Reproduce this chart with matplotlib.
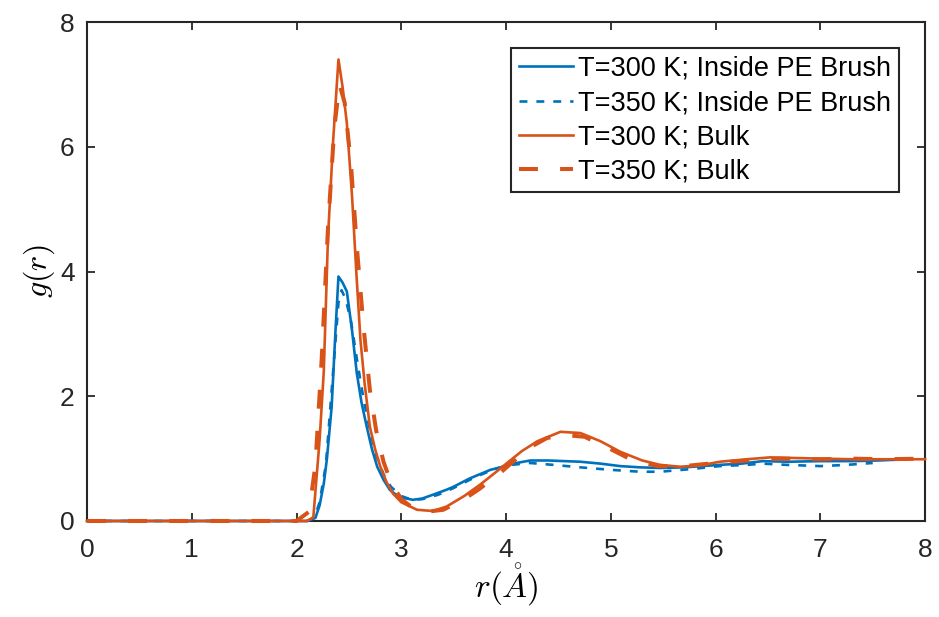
import numpy as np
import matplotlib.pyplot as plt

# g(r) data
r_brush_300 = [0, 2.10, 2.18, 2.22, 2.26, 2.29, 2.335, 2.37, 2.40, 2.44, 2.48, 2.53, 2.575, 2.62, 2.67,
               2.72, 2.77, 2.83, 2.89, 2.95, 3.02, 3.11, 3.2, 3.3, 3.43, 3.5, 3.65, 3.85, 3.95, 4.01,
               4.1, 4.23, 4.4, 4.71, 4.9, 5.09, 5.28, 5.47, 5.7, 6.04, 6.25, 6.45, 6.7, 7.0, 7.3, 7.55, 7.83]
g_brush_300 = [0, 0, 0.05, 0.25, 0.6, 1.0, 1.83, 3.0, 3.92, 3.82, 3.68, 3.05, 2.37, 1.9, 1.51,
               1.15, 0.87, 0.66, 0.50, 0.42, 0.37, 0.34, 0.36, 0.42, 0.50, 0.55, 0.68, 0.82, 0.86, 0.90,
               0.93, 0.97, 0.97, 0.95, 0.92, 0.88, 0.86, 0.85, 0.86, 0.90, 0.92, 0.96, 0.95, 0.96, 0.96, 0.97, 0.99]

r_brush_350 = [0, 2.10, 2.17, 2.22, 2.28, 2.34, 2.40, 2.43, 2.47, 2.52, 2.58, 2.64, 2.70, 2.76, 2.83,
               2.90, 3.0, 3.1, 3.2, 3.35, 3.5, 3.7, 3.9, 4.05, 4.23, 4.45, 4.71, 5.0, 5.28, 5.47,
               5.75, 6.04, 6.3, 6.45, 6.68, 7.0, 7.25, 7.5]
g_brush_350 = [0, 0, 0.05, 0.3, 0.9, 2.2, 3.5, 3.7, 3.55, 3.2, 2.55, 1.95, 1.45, 1.05, 0.75,
               0.55, 0.40, 0.34, 0.35, 0.42, 0.53, 0.70, 0.84, 0.90, 0.93, 0.90, 0.86, 0.82, 0.79, 0.79,
               0.83, 0.88, 0.90, 0.92, 0.90, 0.88, 0.90, 0.93]

r_bulk_300 = [0, 2.10, 2.16, 2.22, 2.26, 2.30, 2.35, 2.40, 2.44, 2.48, 2.53, 2.57, 2.61, 2.65, 2.70,
              2.75, 2.80, 2.86, 2.92, 3.0, 3.15, 3.3, 3.43, 3.6, 3.75, 3.9, 4.01, 4.15, 4.3, 4.52,
              4.71, 4.9, 5.09, 5.3, 5.47, 5.66, 5.85, 6.04, 6.3, 6.52, 6.75, 7.0, 7.3, 7.6, 8.0]
g_bulk_300 = [0, 0, 0.06, 1.3, 2.4, 4.55, 6.12, 7.40, 6.95, 6.38, 5.2, 4.0, 2.9, 2.2, 1.51,
              1.15, 0.87, 0.62, 0.44, 0.30, 0.18, 0.16, 0.23, 0.40, 0.58, 0.78, 0.93, 1.12, 1.28, 1.43,
              1.41, 1.28, 1.11, 0.97, 0.90, 0.87, 0.89, 0.95, 0.99, 1.02, 1.01, 1.00, 0.99, 0.99, 0.99]

r_bulk_350 = [0, 2.0, 2.08, 2.12, 2.18, 2.24, 2.30, 2.36, 2.41, 2.46, 2.52, 2.58, 2.64, 2.70, 2.76,
              2.83, 2.90, 3.0, 3.1, 3.25, 3.4, 3.6, 3.75, 3.95, 4.1, 4.25, 4.39, 4.55, 4.75, 5.0,
              5.2, 5.45, 5.7, 6.0, 6.3, 6.6, 7.0, 7.3, 7.6, 8.0]
g_bulk_350 = [0, 0, 0.1, 0.15, 0.9, 2.6, 4.7, 6.3, 7.0, 6.7, 5.7, 4.3, 3.1, 2.1, 1.45,
              0.95, 0.62, 0.35, 0.22, 0.15, 0.18, 0.35, 0.52, 0.78, 1.0, 1.2, 1.33, 1.38, 1.35, 1.15,
              0.98, 0.88, 0.88, 0.93, 0.97, 1.00, 0.99, 1.0, 0.99, 1.0]

labels = ['T=300 K; Inside PE Brush', 'T=350 K; Inside PE Brush', 'T=300 K; Bulk', 'T=350 K; Bulk']

blue = '#0072BD'
orange = '#D95319'

plt.rcParams['font.family'] = ['Liberation Sans', 'DejaVu Sans']
plt.rcParams['mathtext.fontset'] = 'cm'

fig = plt.figure(figsize=(9.39, 6.17), dpi=100)
ax = fig.add_axes([0.0927, 0.1556, 0.8925, 0.8087])

ax.plot(r_brush_300, g_brush_300, color=blue, lw=1.9, label=labels[0], clip_on=False, zorder=3)
ax.plot(r_brush_350, g_brush_350, color=blue, lw=1.9, ls=(0, (3.0, 3.4)), label=labels[1],
        clip_on=False, zorder=3)
ax.plot(r_bulk_300, g_bulk_300, color=orange, lw=1.9, label=labels[2], clip_on=False, zorder=3)
ax.plot(r_bulk_350, g_bulk_350, color=orange, lw=2.9, ls=(0, (4.7, 5.5)), label=labels[3],
        clip_on=False, zorder=3)

ax.set_xlim(0, 8)
ax.set_ylim(0, 8)
ax.set_xticks(range(0, 9))
ax.set_yticks([0, 2, 4, 6, 8])

ax.tick_params(direction='in', length=6, width=1.3, top=True, right=True,
               labelsize=19, colors='#262626')
ax.tick_params(axis='x', pad=12)
ax.tick_params(axis='y', pad=9)
for s in ax.spines.values():
    s.set_linewidth(1.5)
    s.set_color('#262626')

ax.set_xlabel(r'$r(\mathring{A})$', fontsize=24, labelpad=0)
ax.set_ylabel(r'$g(r)$', fontsize=23, labelpad=2)

leg = ax.legend(loc='upper right', fontsize=19.5, handlelength=2.0, handletextpad=0.2,
                borderpad=0.3, labelspacing=0.3, borderaxespad=0.95, fancybox=False,
                framealpha=1)
leg.get_frame().set_edgecolor('#262626')
leg.get_frame().set_linewidth(1.5)

fig.savefig('out.png', dpi=100)
